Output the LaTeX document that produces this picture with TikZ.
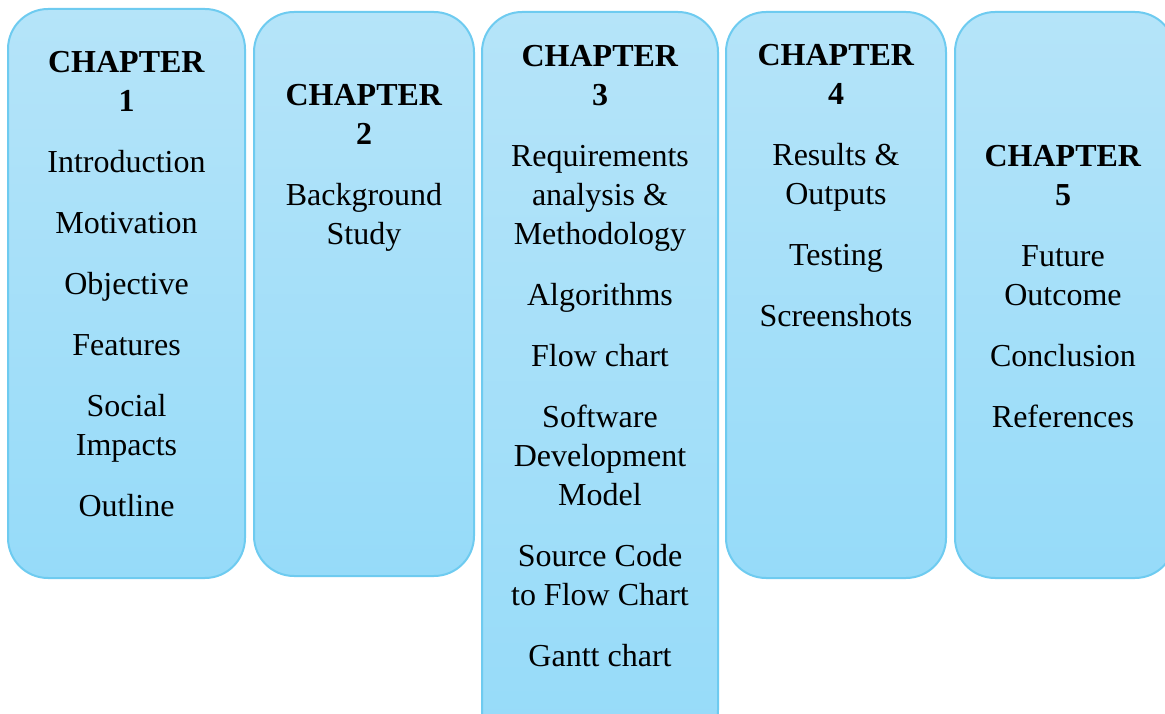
\documentclass[tikz,border=0pt]{standalone}
\usepackage{fontspec}
\setmainfont{Liberation Serif}
\usepackage{tikz}
\usetikzlibrary{positioning}
\usepackage{xcolor}
\definecolor{boxtop}{RGB}{181,228,249}
\definecolor{boxbottom}{RGB}{150,219,249}
\definecolor{boxline}{RGB}{110,203,240}

\begin{document}
\begin{tikzpicture}[x=1pt, y=1pt,
    chapbox/.style={draw=boxline, line width=2pt, rectangle, rounded corners=40pt,
        top color=boxtop, bottom color=boxbottom, inner sep=0pt, outer sep=0pt},
    chaptext/.style={align=center, inner sep=0pt, font=\fontsize{32}{39}\selectfont}]
    \useasboundingbox (0,0) rectangle (1165,713);

    % Chapter boxes
    \node (c1) [chapbox, minimum width=237pt, minimum height=569pt] at (126.5,419.5) {};
    \node (c2) [chapbox, minimum width=220pt, minimum height=564pt] at (364,419) {};
    \node (c3) [chapbox, minimum width=236pt, minimum height=738pt] at (600,332) {};
    \node (c4) [chapbox, minimum width=220pt, minimum height=566pt] at (836,418) {};
    \node (c5) [chapbox, minimum width=220pt, minimum height=566pt] at (1065,418) {};

    % Chapter contents
    \node (t1) [chaptext, below=35.7pt of c1.north] {\strut\textbf{CHAPTER}\\\textbf{1}\\[22pt]
        Introduction\\[22pt]Motivation\\[22pt]Objective\\[22pt]Features\\[22pt]
        Social\\Impacts\\[22pt]Outline};
    \node (t2) [chaptext, below=65.7pt of c2.north] {\strut\textbf{CHAPTER}\\\textbf{2}\\[22pt]
        Background\\Study};
    \node (t3) [chaptext, below=26.7pt of c3.north] {\strut\textbf{CHAPTER}\\\textbf{3}\\[22pt]
        Requirements\\analysis \&\\Methodology\\[22pt]Algorithms\\[22pt]Flow chart\\[22pt]
        Software\\Development\\Model\\[22pt]Source Code\\to Flow Chart\\[22pt]Gantt chart};
    \node (t4) [chaptext, below=25.7pt of c4.north] {\strut\textbf{CHAPTER}\\\textbf{4}\\[22pt]
        Results \&\\Outputs\\[22pt]Testing\\[22pt]Screenshots};
    \node (t5) [chaptext, below=126.7pt of c5.north, xshift=-2pt] {\strut\textbf{CHAPTER}\\\textbf{5}\\[22pt]
        Future\\Outcome\\[22pt]Conclusion\\[22pt]References};
\end{tikzpicture}
\end{document}
